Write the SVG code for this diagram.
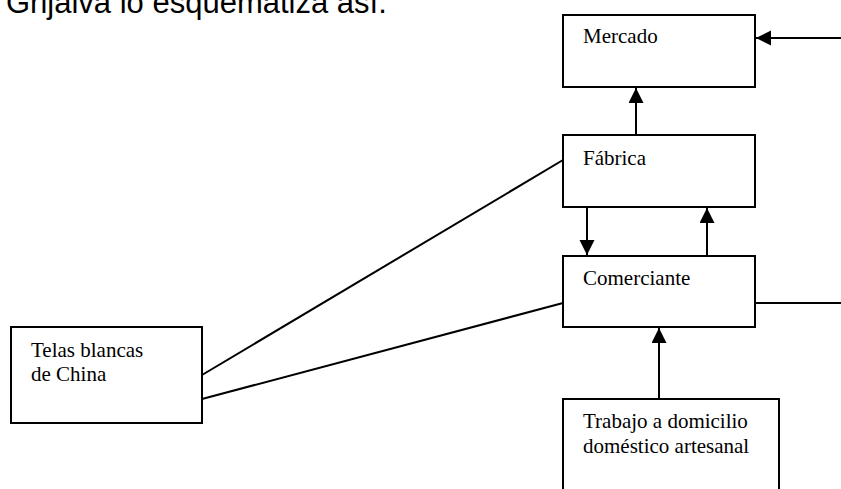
<svg xmlns="http://www.w3.org/2000/svg" width="841" height="489" viewBox="0 0 841 489">
<style>
.box{fill:#fff;stroke:#000;stroke-width:2}
.lbl{font-family:"Liberation Serif","Times New Roman",serif;font-size:21px;fill:#000}
.con{stroke:#000;stroke-width:2;fill:none}
.title{font-family:"Liberation Sans",Arial,sans-serif;font-size:31px;fill:#000}
</style>
<defs>
<marker id="ah" markerUnits="userSpaceOnUse" markerWidth="16" markerHeight="16" refX="15" refY="7.5" orient="auto">
<path d="M0,0 L15,7.5 L0,15 z" fill="#000"/>
</marker>
</defs>
<text class="title" x="6" y="13">Grijalva lo esquematiza así.</text>
<g id="connectors">
<line class="con" x1="841" y1="38" x2="756" y2="38" marker-end="url(#ah)"/>
<line class="con" x1="636" y1="135" x2="636" y2="88" marker-end="url(#ah)"/>
<line class="con" x1="587" y1="207" x2="587" y2="255" marker-end="url(#ah)"/>
<line class="con" x1="707" y1="256" x2="707" y2="208" marker-end="url(#ah)"/>
<line class="con" x1="755" y1="303" x2="841" y2="303"/>
<line class="con" x1="659" y1="399" x2="659" y2="328" marker-end="url(#ah)"/>
<line class="con" x1="202" y1="375" x2="563" y2="160"/>
<line class="con" x1="202" y1="399" x2="563" y2="303"/>
</g>
<g id="mercado">
<rect class="box" x="563" y="15" width="192" height="72"/>
<text class="lbl" x="583" y="43">Mercado</text>
</g>
<g id="fabrica">
<rect class="box" x="563" y="135" width="192" height="72"/>
<text class="lbl" x="583" y="165">Fábrica</text>
</g>
<g id="comerciante">
<rect class="box" x="563" y="256" width="192" height="71"/>
<text class="lbl" x="583" y="285">Comerciante</text>
</g>
<g id="telas">
<rect class="box" x="11" y="327" width="191" height="96"/>
<text class="lbl" x="31" y="357">Telas blancas</text>
<text class="lbl" x="31" y="381">de China</text>
</g>
<g id="trabajo">
<rect class="box" x="563" y="399" width="216" height="100"/>
<text class="lbl" x="583" y="428">Trabajo a domicilio</text>
<text class="lbl" x="583" y="453">doméstico artesanal</text>
</g>
</svg>
